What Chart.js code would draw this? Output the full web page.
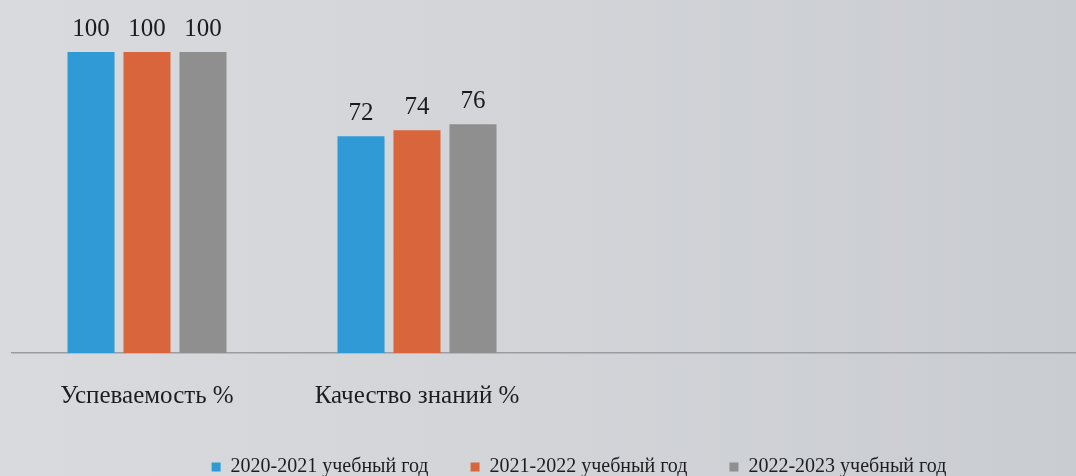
<!DOCTYPE html>
<html><head><meta charset="utf-8">
<script src="https://cdn.jsdelivr.net/npm/chart.js@4.4.1/dist/chart.umd.min.js"></script>
<style>
html,body{margin:0;padding:0;overflow:hidden;}
body{width:1076px;height:476px;background:linear-gradient(90deg,#d9dadd 0%,#d2d4d8 50%,#c9ccd1 100%);}
#wrap{width:1100px;height:476px;position:relative;}
</style></head>
<body><div id="wrap"><canvas id="c"></canvas></div>
<script>
const categories = ["Успеваемость %", "Качество знаний %", "", ""];
const seriesNames = ["2020-2021 учебный год", "2021-2022 учебный год", "2022-2023 учебный год"];
const values2021 = [100, 72, null, null];
const values2122 = [100, 74, null, null];
const values2223 = [100, 76, null, null];
const colors = ["#2f9ad6", "#d8653b", "#8f8f90"];

const valueLabels = {
  id: 'valueLabels',
  afterDatasetsDraw(chart) {
    const ctx = chart.ctx;
    ctx.save();
    ctx.font = '25px "Liberation Serif", serif';
    ctx.fillStyle = '#1b1b1d';
    ctx.textAlign = 'center';
    ctx.textBaseline = 'alphabetic';
    chart.data.datasets.forEach((ds, i) => {
      chart.getDatasetMeta(i).data.forEach((bar, j) => {
        if (ds.data[j] == null) return;
        ctx.fillText(String(ds.data[j]), bar.x, bar.y - 16);
      });
    });
    ctx.restore();
  }
};

const legendShift = {
  id: 'legendShift',
  afterLayout(chart) {
    if (chart.legend) { chart.legend.left += 27; chart.legend.right += 27; }
  }
};

new Chart(document.getElementById('c'), {
  type: 'bar',
  data: {
    labels: categories,
    datasets: [
      {label: seriesNames[0], data: values2021, backgroundColor: colors[0]},
      {label: seriesNames[1], data: values2122, backgroundColor: colors[1]},
      {label: seriesNames[2], data: values2223, backgroundColor: colors[2]}
    ]
  },
  options: {
    responsive: true,
    maintainAspectRatio: false,
    animation: false,
    datasets: {bar: {barPercentage: 0.84, categoryPercentage: 0.622}},
    layout: {padding: {left: 12, right: 8, top: 52, bottom: -11}},
    plugins: {
      tooltip: {enabled: false},
      legend: {
        position: 'bottom',
        labels: {
          boxWidth: 9, boxHeight: 9, padding: 42,
          font: {family: '"Liberation Serif", serif', size: 20},
          color: '#1d1d20'
        }
      }
    },
    scales: {
      x: {
        grid: {display: false, drawTicks: false},
        border: {display: true, color: '#9a9ca1', width: 1.5},
        ticks: {font: {family: '"Liberation Serif", serif', size: 25}, color: '#1d1d20', padding: 28},
        afterFit(scale) { scale.height = 62; }
      },
      y: {display: false, min: 0, max: 100}
    }
  },
  plugins: [valueLabels, legendShift]
});
</script></body></html>
